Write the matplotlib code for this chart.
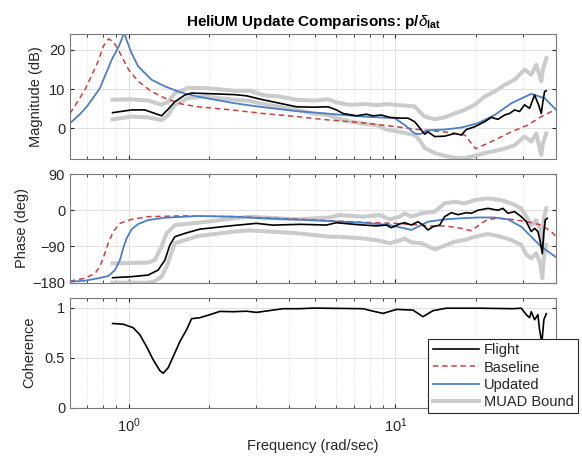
import matplotlib
matplotlib.use("Agg")
import matplotlib.pyplot as plt
from matplotlib.ticker import FixedLocator, LogLocator, NullFormatter, FixedFormatter

plt.rcParams['font.family'] = ['Liberation Sans', 'DejaVu Sans']
plt.rcParams['mathtext.fontset'] = 'custom'
plt.rcParams['mathtext.rm'] = 'Liberation Sans'
plt.rcParams['mathtext.it'] = 'Liberation Sans:italic'
plt.rcParams['mathtext.bf'] = 'Liberation Sans:bold'

# ---------------- data ----------------
title = r'HeliUM Update Comparisons: p/$\delta_{\mathbf{lat}}$'
legend_labels = ['Flight', 'Baseline', 'Updated', 'MUAD Bound']
xtick_vals = [1, 10]
xtick_labels = [r'$10^0$', r'$10^1$']

# Updated model
w_upd_mag = [0.603, 0.657, 0.70, 0.78, 0.864, 0.914, 0.941, 0.963, 0.983, 1.026, 1.086, 1.219, 1.368,
             1.579, 1.823, 2.105, 2.501, 3.184, 4.258, 5.675, 7.562, 9.94, 10.83, 11.81, 12.33,
             13.25, 15.3, 17.67, 20.39, 23.55, 27.2, 32.3, 36.25, 40.1]
mag_upd = [1.3, 3.6, 5.7, 10.2, 17.5, 20.6, 22.6, 24.5, 22.5, 19.2, 15.8, 12.4, 10.7,
           9.1, 8.1, 7.3, 6.4, 5.4, 4.4, 3.7, 3.0, 2.6, 0.85, -1.3, -1.5,
           -0.5, -0.3, 0.2, 1.3, 3.4, 6.4, 8.8, 7.7, 4.7]
w_upd_ph = [0.603, 0.686, 0.769, 0.839, 0.889, 0.928, 0.954, 0.983, 1.026, 1.086, 1.184, 1.368,
            1.823, 2.501, 3.184, 4.258, 5.675, 7.562, 9.52, 10.83, 11.48, 12.15, 13.25, 15.3,
            17.67, 20.39, 23.55, 26.41, 29.65, 32.31, 35.23, 40.1]
ph_upd = [-177.6, -175, -169, -163.5, -148.5, -123.7, -94.7, -69.8, -47.5, -34.3, -24.3, -18.6,
          -14.4, -16, -20, -23, -27, -31, -37, -45, -49, -41, -28.5, -22.7,
          -20, -18, -18, -22.7, -41, -65.8, -90.6, -117]

# Baseline model
w_base_mag = [0.603, 0.686, 0.769, 0.803, 0.839, 0.876, 0.914, 0.999, 1.086, 1.219, 1.368, 1.579,
              1.823, 2.431, 3.184, 4.258, 5.675, 7.562, 10.09, 12.51, 15.3, 18.18, 19.99,
              23.55, 27.2, 31.38, 35.23, 40.1]
mag_base = [3.8, 9.8, 17.1, 20.9, 22.8, 22.2, 20.1, 15.0, 12.0, 9.4, 7.7, 6.2,
            5.5, 4.7, 3.8, 3.0, 2.1, 1.4, 0.4, -0.4, -0.9, -1.7, -5.2,
            -3.0, -0.9, 0.85, 3.0, 4.9]
w_base_ph = [0.603, 0.686, 0.748, 0.781, 0.815, 0.839, 0.876, 0.928, 1.026, 1.184, 1.579, 2.501,
             3.184, 4.258, 5.675, 7.562, 9.94, 11.48, 13.25, 15.3, 17.67, 19.26, 21.0, 22.23,
             24.23, 27.2, 31.38, 35.23, 38.4, 40.1]
ph_base = [-176, -169, -157, -140, -107, -82, -53, -32.6, -22.7, -16, -14, -16,
           -19, -22, -26, -30, -32.6, -35, -39, -39, -45, -51, -32.6, -22.7,
           -20, -22.7, -29, -37, -53, -66]

# Flight data
w_flt_mag = [0.871, 1.026, 1.151, 1.255, 1.329, 1.407, 1.491, 1.625, 1.722, 2.105, 2.501, 2.767,
             3.184, 3.687, 4.258, 4.913, 5.592, 6.012, 6.364, 7.144, 7.787, 8.245, 8.866, 9.521,
             10.38, 11.15, 11.81, 12.51, 12.87, 13.25, 14.04, 15.3, 16.68, 17.67, 18.45, 19.82,
             21.61, 22.89, 24.23, 25.67, 26.8, 27.98, 29.21, 30.5, 31.84, 33.25, 34.41, 35.23,
             35.72, 36.25, 36.79]
mag_flt = [4.0, 4.7, 4.7, 3.8, 3.2, 4.9, 6.8, 8.5, 9.0, 8.8, 8.6, 8.3,
           7.3, 6.4, 5.5, 5.4, 5.5, 4.7, 3.8, 3.2, 3.6, 3.2, 3.4, 2.8,
           2.6, 2.6, 1.7, -0.4, -1.5, -0.9, -2.1, -2.0, -1.3, -1.7, -0.3, 0.4,
           1.7, 2.8, 2.3, 3.4, 3.8, 4.7, 4.3, 6.0, 5.1, 8.5, 6.0, 3.8,
           6.8, 9.4, 9.6]
w_flt_ph = [0.871, 1.026, 1.184, 1.291, 1.368, 1.428, 1.491, 1.625, 1.849, 2.465, 3.016, 3.471,
            4.381, 5.515, 6.012, 7.144, 8.49, 9.256, 9.661, 10.38, 10.83, 11.48, 12.15, 12.69,
            13.25, 13.83, 14.65, 15.3, 16.21, 17.16, 18.45, 19.26, 20.39, 22.23, 24.23, 25.29,
            26.41, 27.98, 29.65, 30.95, 32.31, 33.25, 34.21, 34.92, 35.54, 36.03, 36.47, 37.1]
ph_flt = [-167.6, -165, -161, -148.5, -123.7, -86.4, -65.8, -57.4, -47, -38, -32.6, -37,
          -35, -36.8, -31, -35.5, -39, -36.8, -43.5, -34, -31, -36.8, -28.5, -36.8,
          -49, -41, -37, -16, -6, -11, -6, -7.6, 0, 4.6, 0, 4.6,
          -7.6, -3.4, -16, -28.5, -53, -45, -53, -78, -108, -53, -24, -20]
w_coh = [0.871, 0.954, 1.040, 1.102, 1.168, 1.236, 1.310, 1.348, 1.407, 1.469, 1.556, 1.649,
         1.722, 1.849, 2.016, 2.198, 2.465, 2.767, 3.016, 3.288, 3.794, 4.381, 4.913, 7.562,
         8.013, 8.989, 10.09, 11.64, 12.69, 13.83, 15.53, 20.69, 27.57, 29.65, 30.95, 31.84,
         32.31, 33.25, 34.21, 34.71, 35.4, 36.03, 36.79]
coh_flt = [0.842, 0.835, 0.80, 0.73, 0.61, 0.48, 0.37, 0.345, 0.40, 0.51, 0.66, 0.78,
           0.89, 0.90, 0.93, 0.963, 0.96, 0.965, 0.953, 0.967, 0.99, 0.99, 0.996, 0.99,
           0.973, 0.943, 0.983, 0.976, 0.91, 0.97, 0.995, 0.995, 0.99, 0.995, 0.93, 0.90,
           0.96, 0.88, 0.93, 0.78, 0.65, 0.88, 0.94]

# MUAD bounds
w_muad_mag = [0.871, 1.026, 1.184, 1.329, 1.407, 1.491, 1.672, 1.931, 2.501, 2.847, 3.184, 3.687,
              4.258, 4.913, 5.592, 6.012, 6.743, 7.787, 8.49, 9.256, 10.38, 11.81, 12.33, 12.87,
              14.04, 15.3, 16.68, 18.18, 19.82, 21.61, 23.55, 25.67, 27.98, 30.5, 32.31, 33.74,
              35.23, 35.72, 36.79]
mag_muad_hi = [7.3, 7.4, 7.1, 6.0, 6.8, 9.0, 10.3, 10.3, 9.6, 9.6, 8.5, 8.1,
               7.3, 7.1, 7.4, 6.6, 6.0, 6.2, 5.9, 6.2, 5.9, 5.6, 4.3, 3.0,
               2.3, 2.8, 3.8, 4.7, 6.0, 8.1, 9.4, 11.1, 12.4, 15.0, 13.7, 16.2,
               12.0, 15.0, 17.9]
mag_muad_lo = [2.3, 3.0, 2.8, 2.1, 3.4, 6.0, 7.7, 8.1, 7.3, 7.0, 6.2, 5.5,
               4.7, 3.8, 3.4, 2.6, 1.8, 1.1, 0.8, -0.3, -0.9, -1.7, -3.0, -5.0,
               -6.3, -7.0, -7.5, -7.6, -7.0, -6.3, -5.8, -5.2, -4.3, -2.1, -3.4, -1.3,
               -6.8, -3.8, -1.3]
w_muad_ph = [0.871, 1.184, 1.255, 1.329, 1.388, 1.491, 1.823, 2.501, 2.847, 4.258, 5.675, 6.186,
             7.562, 8.737, 9.521, 10.38, 10.83, 11.48, 12.51, 14.04, 15.3, 16.68, 18.18, 19.82,
             22.23, 24.95, 27.2, 29.65, 30.95, 32.31, 33.74, 34.92, 35.54, 36.03, 36.79]
ph_muad_hi = [-132, -130, -123.7, -90.6, -57.4, -36.8, -31, -20, -16, -22.7, -18, -12,
              -16, -12, -22.7, -16, -8, -16, -8, -3.5, 17, 21, 17, 25,
              29.5, 25, 17, 4.6, -16, -37, -25, -50, -90, -20, 4.6]
ph_muad_lo = [-180, -180, -176, -165, -140, -82, -64, -53, -50, -57, -65.8, -66,
              -70, -75.7, -82, -75, -70, -80, -82, -97, -88, -78, -74, -66,
              -59, -66, -74, -86, -110, -119.5, -107, -132, -169, -115, -86]

# ---------------- styles ----------------
c_flt = 'black'
c_base = '#cc3d3d'
c_upd = '#4a7fc6'
c_muad = '#cbcbcb'
txt = '#262626'

fig = plt.figure(figsize=(5.82, 4.61), dpi=100)
L, W = 70 / 582, 486 / 582
ax1 = fig.add_axes([L, 1 - 159.3 / 461, W, 125 / 461])
ax2 = fig.add_axes([L, 1 - 282.7 / 461, W, 108.7 / 461])
ax3 = fig.add_axes([L, 1 - 407.7 / 461, W, 110 / 461])

def style(ax):
    ax.set_xscale('log')
    ax.set_xlim(0.603, 40)
    ax.xaxis.set_major_locator(FixedLocator(xtick_vals))
    ax.xaxis.set_minor_locator(LogLocator(base=10, subs=range(2, 10)))
    ax.xaxis.set_minor_formatter(NullFormatter())
    ax.grid(True, which='major', color='#dedede', lw=0.7, ls='-')
    ax.grid(True, which='minor', axis='x', color='#d8d8d8', lw=0.6, ls=':')
    ax.set_axisbelow(True)
    ax.tick_params(which='both', direction='in', top=True, right=True, colors=txt,
                   labelsize=10.5, length=3)
    ax.tick_params(which='minor', length=2)
    for s in ax.spines.values():
        s.set_color('#7a7a7a')
        s.set_linewidth(0.8)

for ax in (ax1, ax2, ax3):
    style(ax)

lw_m = 2.9
# magnitude
ax1.plot(w_muad_mag, mag_muad_hi, color=c_muad, lw=lw_m, solid_joinstyle='round')
ax1.plot(w_muad_mag, mag_muad_lo, color=c_muad, lw=lw_m, solid_joinstyle='round')
ax1.plot(w_base_mag, mag_base, color=c_base, lw=1.1, ls=(0, (3.5, 2.5)))
ax1.plot(w_upd_mag, mag_upd, color=c_upd, lw=1.3)
ax1.plot(w_flt_mag, mag_flt, color=c_flt, lw=1.2)
ax1.set_ylim(-7.9, 24)
ax1.set_yticks([0, 10, 20])
ax1.set_xticklabels([])
ax1.set_ylabel('Magnitude (dB)', fontsize=10.5, color=txt, labelpad=4)
ax1.set_title(title, fontsize=11, fontweight='bold', color='black', pad=6)

# phase
ax2.plot(w_muad_ph, ph_muad_hi, color=c_muad, lw=lw_m, solid_joinstyle='round')
ax2.plot(w_muad_ph, ph_muad_lo, color=c_muad, lw=lw_m, solid_joinstyle='round')
ax2.plot(w_base_ph, ph_base, color=c_base, lw=1.1, ls=(0, (3.5, 2.5)))
ax2.plot(w_upd_ph, ph_upd, color=c_upd, lw=1.3)
ax2.plot(w_flt_ph, ph_flt, color=c_flt, lw=1.2)
ax2.set_ylim(-180, 90)
ax2.set_yticks([-180, -90, 0, 90])
ax2.set_xticklabels([])
ax2.set_ylabel('Phase (deg)', fontsize=10.5, color=txt, labelpad=2)

# coherence
h_flt, = ax3.plot(w_coh, coh_flt, color=c_flt, lw=1.2)
ax3.set_ylim(0, 1.1)
ax3.set_yticks([0, 0.5, 1])
ax3.set_yticklabels(['0', '0.5', '1'])
ax3.xaxis.set_major_formatter(FixedFormatter(xtick_labels))
ax3.tick_params(axis='x', pad=6)
ax3.set_ylabel('Coherence', fontsize=10.5, color=txt, labelpad=6)
ax3.set_xlabel('Frequency (rad/sec)', fontsize=10.5, color=txt, labelpad=3)

h_base, = ax3.plot([], [], color=c_base, lw=1.1, ls=(0, (3.5, 2.5)))
h_upd, = ax3.plot([], [], color=c_upd, lw=1.3)
h_muad, = ax3.plot([], [], color=c_muad, lw=lw_m)
leg = ax3.legend([h_flt, h_base, h_upd, h_muad], legend_labels,
                 loc='upper left', bbox_to_anchor=(0.737, 0.625), fontsize=10.5,
                 frameon=True, fancybox=False, edgecolor='#262626', framealpha=1,
                 handlelength=3.2, handletextpad=0.3, labelspacing=0.22,
                 borderpad=0.3, borderaxespad=0)
leg.get_frame().set_linewidth(0.8)
for t in leg.get_texts():
    t.set_color(txt)
leg.set_zorder(10)

fig.savefig('out.png', dpi=100)
